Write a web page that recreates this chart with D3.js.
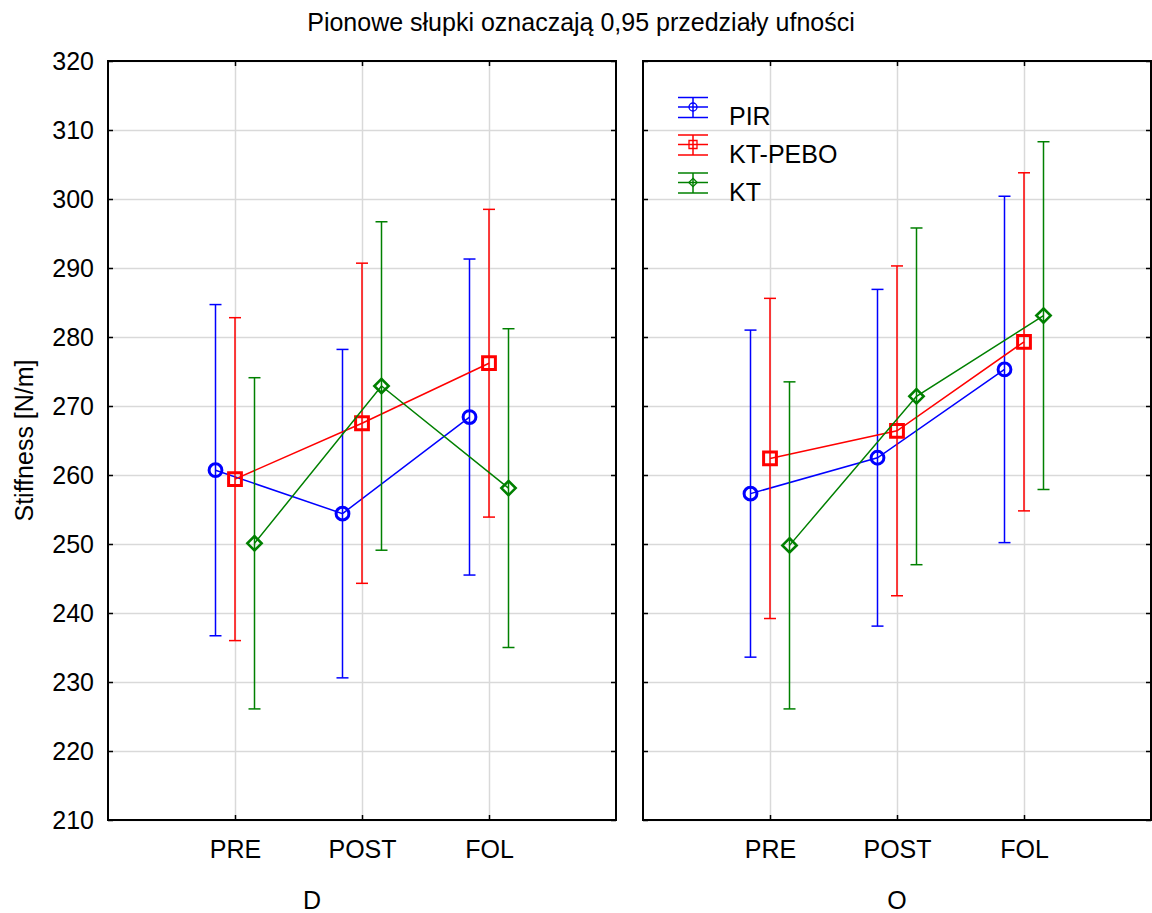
<!DOCTYPE html>
<html>
<head>
<meta charset="utf-8">
<script src="https://cdn.jsdelivr.net/npm/d3@7"></script>
<style>
  html, body { margin: 0; padding: 0; background: #fff; }
  svg { display: block; font-family: "Liberation Sans", Arial, sans-serif; }
</style>
</head>
<body>
<svg id="chart" width="1152" height="913"></svg>
<script>
// Measurement times on the x axis and the two panels
const times = ["PRE", "POST", "FOL"];
const panels = ["D", "O"];
const groups = ["PIR", "KT-PEBO", "KT"];
const yTicks = [210, 220, 230, 240, 250, 260, 270, 280, 290, 300, 310, 320];

// Group means per time point (panel D)
const meanD_PIR    = [260.7, 254.4, 268.4];
const meanD_KTPEBO = [259.4, 267.5, 276.2];
const meanD_KT     = [250.1, 272.9, 258.1];
// Half-widths of the 0.95 confidence intervals (panel D)
const ciD_PIR    = [24.0, 23.8, 22.9];
const ciD_KTPEBO = [23.4, 23.2, 22.3];
const ciD_KT     = [24.0, 23.8, 23.1];

// Group means per time point (panel O)
const meanO_PIR    = [257.3, 262.5, 275.3];
const meanO_KTPEBO = [262.4, 266.4, 279.3];
const meanO_KT     = [249.8, 271.4, 283.1];
// Half-widths of the 0.95 confidence intervals (panel O)
const ciO_PIR    = [23.7, 24.4, 25.1];
const ciO_KTPEBO = [23.2, 23.9, 24.5];
const ciO_KT     = [23.7, 24.4, 25.2];

const colors = { "PIR": "#0000ff", "KT-PEBO": "#ff0000", "KT": "#008000" };

const panelData = {
  D: [
    { group: "PIR", mean: meanD_PIR, ci: ciD_PIR },
    { group: "KT-PEBO", mean: meanD_KTPEBO, ci: ciD_KTPEBO },
    { group: "KT", mean: meanD_KT, ci: ciD_KT }
  ],
  O: [
    { group: "PIR", mean: meanO_PIR, ci: ciO_PIR },
    { group: "KT-PEBO", mean: meanO_KTPEBO, ci: ciO_KTPEBO },
    { group: "KT", mean: meanO_KT, ci: ciO_KT }
  ]
};

const svg = d3.select("#chart");
const FONT = 25;
const plotTop = 61, plotBottom = 820;
const panelBox = { D: [108, 616], O: [643, 1151] };
const panelLabelX = { D: 312, O: 897 };

const y = d3.scaleLinear().domain([210, 320]).range([plotBottom, plotTop]);
const offset = d3.scalePoint().domain(groups).range([-19.5, 19.5]);

// Title
svg.append("text")
  .attr("x", 581).attr("y", 31)
  .attr("text-anchor", "middle")
  .attr("font-size", FONT)
  .text("Pionowe słupki oznaczają 0,95 przedziały ufności");

// Y axis title
svg.append("text")
  .attr("transform", `translate(33,${(plotTop + plotBottom) / 2}) rotate(-90)`)
  .attr("text-anchor", "middle")
  .attr("font-size", FONT)
  .text("Stiffness [N/m]");

function symbolPath(group, size) {
  if (group === "PIR") return d3.symbol().type(d3.symbolCircle).size(Math.PI * size * size)();
  if (group === "KT-PEBO") return d3.symbol().type(d3.symbolSquare).size(4 * size * size)();
  // diamond given by half-diagonal
  return `M0,${-size * 1.05}L${size * 1.05},0L0,${size * 1.05}L${-size * 1.05},0Z`;
}

panels.forEach(p => {
  const [x0, x1] = panelBox[p];
  const x = d3.scalePoint().domain(times).range([x0, x1]).padding(1);
  const g = svg.append("g");

  // Grid lines
  g.append("g")
    .attr("transform", `translate(${x0},0)`)
    .call(d3.axisLeft(y).tickValues(yTicks).tickSize(-(x1 - x0)).tickFormat(""))
    .call(s => s.select(".domain").remove())
    .call(s => s.selectAll(".tick line").attr("stroke", "#d9d9d9").attr("stroke-width", 1.5));
  g.append("g")
    .attr("transform", `translate(0,${plotBottom})`)
    .call(d3.axisBottom(x).tickSize(-(plotBottom - plotTop)).tickFormat(""))
    .call(s => s.select(".domain").remove())
    .call(s => s.selectAll(".tick line").attr("stroke", "#d9d9d9").attr("stroke-width", 1.5));

  // Inward ticks on all four sides
  const left = g.append("g")
    .attr("transform", `translate(${x0},0)`)
    .call(d3.axisLeft(y).tickValues(yTicks).tickSizeInner(-5).tickSizeOuter(0).tickPadding(14));
  left.select(".domain").remove();
  left.selectAll(".tick line").attr("stroke", "#000").attr("stroke-width", 1.5);
  left.selectAll(".tick text").attr("font-size", FONT).attr("fill", "#000")
    .attr("font-family", "Liberation Sans, Arial, sans-serif");
  if (p !== "D") left.selectAll(".tick text").remove();

  g.append("g")
    .attr("transform", `translate(${x1},0)`)
    .call(d3.axisRight(y).tickValues(yTicks).tickSizeInner(-5).tickSizeOuter(0).tickFormat(""))
    .call(s => s.select(".domain").remove())
    .call(s => s.selectAll(".tick line").attr("stroke", "#000").attr("stroke-width", 1.5));

  g.append("g")
    .attr("transform", `translate(0,${plotTop})`)
    .call(d3.axisTop(x).tickSizeInner(-5).tickSizeOuter(0).tickFormat(""))
    .call(s => s.select(".domain").remove())
    .call(s => s.selectAll(".tick line").attr("stroke", "#000").attr("stroke-width", 1.5));

  const bot = g.append("g")
    .attr("transform", `translate(0,${plotBottom})`)
    .call(d3.axisBottom(x).tickSizeInner(-5).tickSizeOuter(0).tickPadding(20));
  bot.select(".domain").remove();
  bot.selectAll(".tick line").attr("stroke", "#000").attr("stroke-width", 1.5);
  bot.selectAll(".tick text").attr("font-size", FONT).attr("fill", "#000")
    .attr("font-family", "Liberation Sans, Arial, sans-serif");

  // Frame
  g.append("rect")
    .attr("x", x0).attr("y", plotTop)
    .attr("width", x1 - x0).attr("height", plotBottom - plotTop)
    .attr("fill", "none").attr("stroke", "#000").attr("stroke-width", 2);

  // Panel label
  g.append("text")
    .attr("x", panelLabelX[p]).attr("y", 909)
    .attr("text-anchor", "middle")
    .attr("font-size", FONT)
    .text(p);

  // Series
  panelData[p].forEach(s => {
    const col = colors[s.group];
    const pts = times.map((t, i) => ({
      x: x(t) + offset(s.group),
      m: s.mean[i], lo: s.mean[i] - s.ci[i], hi: s.mean[i] + s.ci[i]
    }));
    const sg = g.append("g");

    sg.append("path")
      .attr("d", d3.line().x(d => d.x).y(d => y(d.m))(pts))
      .attr("fill", "none").attr("stroke", col).attr("stroke-width", 1.5);

    pts.forEach(d => {
      sg.append("line")
        .attr("x1", d.x).attr("x2", d.x).attr("y1", y(d.lo)).attr("y2", y(d.hi))
        .attr("stroke", col).attr("stroke-width", 1.5);
      [d.lo, d.hi].forEach(v => {
        sg.append("line")
          .attr("x1", d.x - 6).attr("x2", d.x + 6).attr("y1", y(v)).attr("y2", y(v))
          .attr("stroke", col).attr("stroke-width", 1.5);
      });
    });

    sg.selectAll(".mk").data(pts).enter().append("path")
      .attr("transform", d => `translate(${d.x},${y(d.m)})`)
      .attr("d", symbolPath(s.group, s.group === "KT" ? 6.8 : 6.4))
      .attr("fill", "none").attr("stroke", col)
      .attr("stroke-width", s.group === "KT" ? 2.6 : 3);
  });
});

// Legend inside panel O
const legendRows = [107, 144.5, 182.5];
groups.forEach((grp, i) => {
  const col = colors[grp];
  const cy = legendRows[i];
  const lg = svg.append("g").attr("transform", `translate(693,${cy})`);
  [-9.5, 0, 10.5].forEach(dy => {
    lg.append("line").attr("x1", -15).attr("x2", 15).attr("y1", dy).attr("y2", dy)
      .attr("stroke", col).attr("stroke-width", 1.5);
  });
  lg.append("line").attr("x1", 0).attr("x2", 0).attr("y1", -9.5).attr("y2", 10.5)
    .attr("stroke", col).attr("stroke-width", 1.5);
  lg.append("path").attr("d", symbolPath(grp, 4))
    .attr("fill", "none").attr("stroke", col).attr("stroke-width", 1.3);
  svg.append("text")
    .attr("x", 729).attr("y", cy + 18)
    .attr("font-size", FONT)
    .text(grp);
});
</script>
</body>
</html>
